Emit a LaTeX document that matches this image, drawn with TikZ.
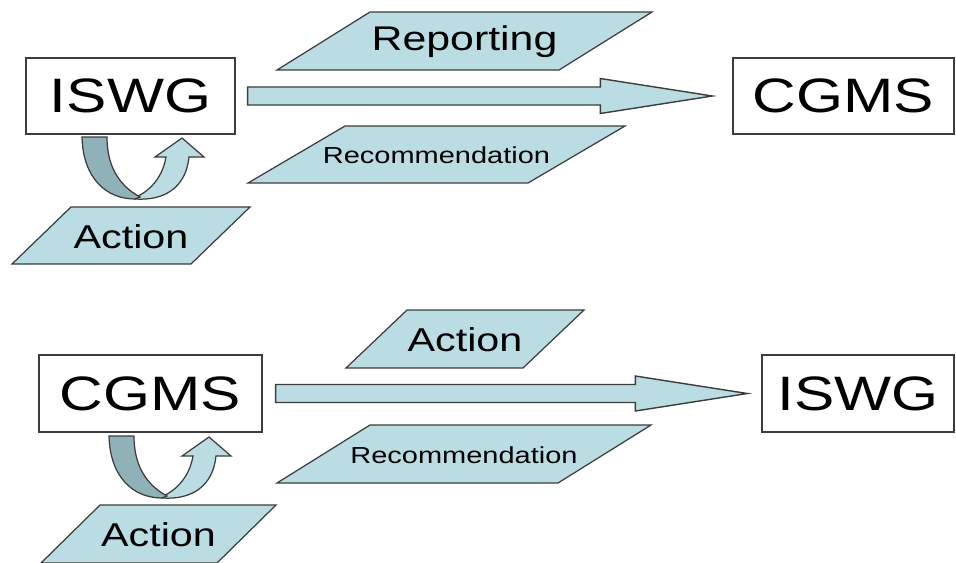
\documentclass[tikz,border=0pt]{standalone}
\usepackage{fontspec}
\setmainfont{Liberation Sans}
\newfontfamily\widefont[FakeStretch=1.25]{Liberation Sans}
\usetikzlibrary{calc}

\definecolor{paleteal}{HTML}{B9DDE3}
\definecolor{darkteal}{HTML}{8FB1B8}
\definecolor{edgegray}{HTML}{3C3C3C}

\tikzset{
  unitbox/.style={draw=edgegray, line width=0.8pt, fill=white, inner sep=0pt,
    font=\widefont\fontsize{27.5}{32}\selectfont},
  paragram/.style={draw=edgegray, line width=0.7pt, fill=paleteal},
  labrep/.style={inner sep=0pt, font=\widefont\fontsize{19.5}{23}\selectfont},
  labbig/.style={inner sep=0pt, font=\widefont\fontsize{18.8}{22}\selectfont},
  labsmall/.style={inner sep=0pt, font=\widefont\fontsize{13.2}{16}\selectfont},
  bigarrow/.style={draw=edgegray, line width=0.8pt, fill=paleteal, line join=miter},
  turnlight/.style={draw=edgegray, line width=0.7pt, fill=paleteal},
  turndark/.style={draw=edgegray, line width=0.7pt, fill=darkteal}
}

\begin{document}
\begin{tikzpicture}[x=0.02cm, y=-0.02cm]
    \useasboundingbox (0,0) rectangle (956,562);
    % Boxes
    \node[unitbox, minimum width=4.18cm, minimum height=1.52cm] (iswgA) at (130.5,96) {ISWG};
    \node[unitbox, minimum width=4.42cm, minimum height=1.52cm] (cgmsA) at (843.5,96) {CGMS};
    \node[unitbox, minimum width=4.46cm, minimum height=1.54cm] (cgmsB) at (150.5,393.5) {CGMS};
    \node[unitbox, minimum width=3.84cm, minimum height=1.54cm] (iswgB) at (858,393.5) {ISWG};
    % Flow arrows
    \coordinate (tailA) at ([xshift=0.24cm]iswgA.east);
    \coordinate (tipA) at ([xshift=-0.4cm]cgmsA.west);
    \coordinate (tailB) at ([xshift=0.26cm]cgmsB.east);
    \coordinate (tipB) at ([xshift=-0.28cm]iswgB.west);
    \foreach \s/\t in {tailA/tipA, tailB/tipB} {
        \draw[bigarrow] ($(\s)+(0,-9)$) -- ($(\t)+(-112,-9)$) -- ($(\t)+(-112,-17.5)$)
            -- (\t) -- ($(\t)+(-112,17.5)$) -- ($(\t)+(-112,9)$) -- ($(\s)+(0,9)$) -- cycle;
    }
    % Labels (bottom-left corner, width, height, slant)
    \foreach \name/\x/\y/\w/\h/\sl/\sty/\txt in {
        rep/277/70/282/58/93/labrep/Reporting,
        recA/248/183/280/57/97/labsmall/Recommendation,
        actA/12/264/179/57/59/labbig/Action,
        actB/346/368/177/58/61/labbig/Action,
        recB/277/483/281/58/93/labsmall/Recommendation,
        actC/41/563/176/58/59/labbig/Action} {
        \draw[paragram] (\x,\y) -- ++(\w,0) -- ++(\sl,-\h) -- ++(-\w,0) -- cycle;
        \node[\sty] (\name) at ({\x+\w/2+\sl/2},{\y-\h/2+1}) {\txt};
    }
    % Self loops
    \foreach \dx/\dy in {0/0, 27/299} {
        \begin{scope}[shift={(\dx,\dy)}]
            \draw[turnlight] (136,197) .. controls (152,190) and (163,175) .. (166,157)
                -- (155,157) -- (182,138) -- (204,157) -- (189,157)
                .. controls (186,187) and (165,201) .. (135,199) -- cycle;
            \draw[turndark] (82,137) .. controls (83,178) and (106,199) .. (135,199)
                -- (140,197) .. controls (118,185) and (107,165) .. (107,137) -- cycle;
        \end{scope}
    }
\end{tikzpicture}
\end{document}
